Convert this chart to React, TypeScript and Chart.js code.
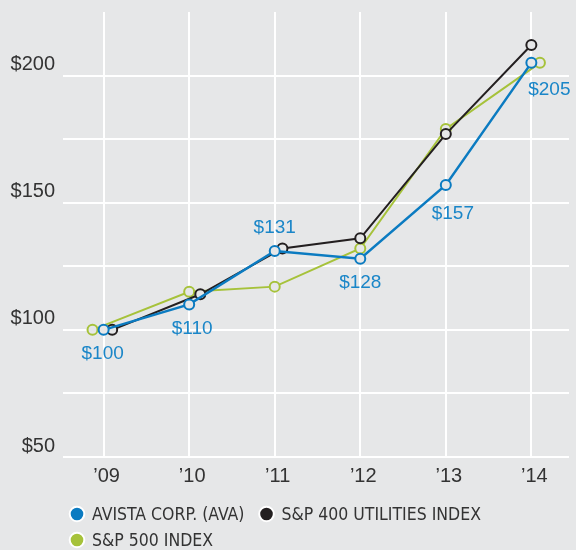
import { useEffect, useRef } from 'react';
import { Chart, registerables } from 'chart.js';

Chart.register(...registerables);

// ---- data ----
const years = [2009, 2010, 2011, 2012, 2013, 2014];
const avistaValues = [100, 110, 131, 128, 157, 205];
const utilitiesValues = [100, 114, 132, 136, 177, 212];
const sp500Values = [100, 115, 117, 132, 179, 205];
const seriesNames = ['AVISTA CORP. (AVA)', 'S&P 400 UTILITIES INDEX', 'S&P 500 INDEX'];
const yTickLabels = [50, 100, 150, 200];

// ---- styling ----
const BG = '#e6e7e8';
const BLUE = '#0b7bc1';
const BLACK = '#231f20';
const GREEN = '#a6c23a';
const TICK_FONT = { family: '"Liberation Sans", Arial, sans-serif', size: 20 };
const LEGEND_FONT = '17.5px "Liberation Sans Narrow", "DejaVu Sans Condensed", sans-serif';

// small horizontal nudges (in years) used in the original to keep overlapping markers apart
const nudges = {
  avista: [0, 0, 0, 0, 0, 0],
  utilities: [0.1, 0.13, 0.09, 0, 0, 0],
  sp500: [-0.13, 0, 0, 0, 0, 0.1],
};

const toPoints = (vals: number[], nudge: number[]) =>
  vals.map((v, i) => ({ x: years[i] + nudge[i], y: v }));

const valueLabels = {
  id: 'valueLabels',
  afterDatasetsDraw(chart: any, _args: any, opts: any) {
    const meta = chart.getDatasetMeta(opts.datasetIndex);
    const ds = chart.data.datasets[opts.datasetIndex];
    const ctx = chart.ctx;
    ctx.save();
    ctx.font = opts.font;
    ctx.fillStyle = opts.color;
    ctx.textAlign = 'center';
    ctx.textBaseline = 'middle';
    meta.data.forEach((pt: any, i: number) => {
      const [dx, dy] = opts.offsets[i];
      ctx.fillText('$' + ds.data[i].y, pt.x + dx, pt.y + dy);
    });
    ctx.restore();
  },
};

const dotLegend = {
  id: 'dotLegend',
  afterDraw(chart: any, _args: any, opts: any) {
    const ctx = chart.ctx;
    ctx.save();
    ctx.font = opts.font;
    ctx.textBaseline = 'middle';
    ctx.textAlign = 'left';
    let x = opts.left;
    let y = opts.top;
    chart.data.datasets.forEach((ds: any) => {
      const w = opts.textGap + ctx.measureText(ds.label).width;
      if (x + w > chart.width && x > opts.left) {
        x = opts.left;
        y += opts.rowHeight;
      }
      ctx.beginPath();
      ctx.arc(x, y, opts.radius, 0, Math.PI * 2);
      ctx.fillStyle = ds.borderColor;
      ctx.fill();
      ctx.lineWidth = 2;
      ctx.strokeStyle = '#ffffff';
      ctx.stroke();
      ctx.fillStyle = opts.color;
      ctx.fillText(ds.label, x + opts.textGap, y + 1);
      x += w + opts.itemGap;
    });
    ctx.restore();
  },
};

export default function App() {
  const ref = useRef<HTMLCanvasElement>(null);

  useEffect(() => {
    document.body.style.margin = '0';
    const mk = (label: string, color: string, vals: number[], nudge: number[], width: number) => ({
      label,
      data: toPoints(vals, nudge),
      borderColor: color,
      backgroundColor: BG,
      borderWidth: width,
      pointRadius: 5,
      pointBorderWidth: 2,
      pointBackgroundColor: BG,
      pointBorderColor: color,
      tension: 0,
    });
    const chart = new Chart(ref.current as HTMLCanvasElement, {
      type: 'line',
      data: {
        datasets: [
          mk(seriesNames[0], BLUE, avistaValues, nudges.avista, 2.5),
          mk(seriesNames[1], BLACK, utilitiesValues, nudges.utilities, 2),
          mk(seriesNames[2], GREEN, sp500Values, nudges.sp500, 2),
        ],
      },
      options: {
        responsive: false,
        animation: false,
        layout: { padding: { top: 12, right: 3, bottom: 62, left: 0 } },
        plugins: {
          legend: { display: false },
          tooltip: { enabled: false },
          valueLabels: {
            datasetIndex: 0,
            font: '19px "Liberation Sans", Arial, sans-serif',
            color: '#1a86c8',
            offsets: [[-1, 24], [3, 24], [0, -23], [0, 24], [7, 29], [18, 27]],
          },
          dotLegend: {
            font: LEGEND_FONT,
            color: '#333333',
            left: 77,
            top: 514,
            radius: 7.3,
            textGap: 15,
            itemGap: 22,
            rowHeight: 26,
          },
        } as any,
        scales: {
          x: {
            type: 'linear',
            min: 2008.525,
            max: 2014.44,
            afterFit: (s: any) => {
              s.height = 31;
              s.paddingLeft = 0;
              s.paddingRight = 0;
            },
            border: { display: false },
            grid: { color: '#ffffff', lineWidth: 2, drawTicks: false },
            ticks: {
              stepSize: 1,
              includeBounds: false,
              padding: 7,
              labelOffset: 3,
              font: TICK_FONT,
              color: '#333333',
              callback: (v: any) => '\u2019' + String(v).slice(2),
            },
          },
          y: {
            min: 50,
            max: 225,
            afterFit: (s: any) => {
              s.width = 63;
              s.paddingTop = 0;
              s.paddingBottom = 0;
            },
            border: { display: false },
            grid: {
              color: (c: any) => (c.tick && c.tick.value === 225 ? 'rgba(0,0,0,0)' : '#ffffff'),
              lineWidth: 2,
              drawTicks: false,
            },
            ticks: {
              stepSize: 25,
              padding: 8,
              labelOffset: -11,
              font: TICK_FONT,
              color: '#333333',
              autoSkip: false,
              callback: (v: any) => (yTickLabels.includes(v) ? '$' + v : ''),
            },
          },
        },
      },
      plugins: [valueLabels, dotLegend],
    });
    return () => chart.destroy();
  }, []);

  return (
    <div style={{ width: 576, height: 550, background: BG }}>
      <canvas ref={ref} width={576} height={550} style={{ display: 'block' }} />
    </div>
  );
}
